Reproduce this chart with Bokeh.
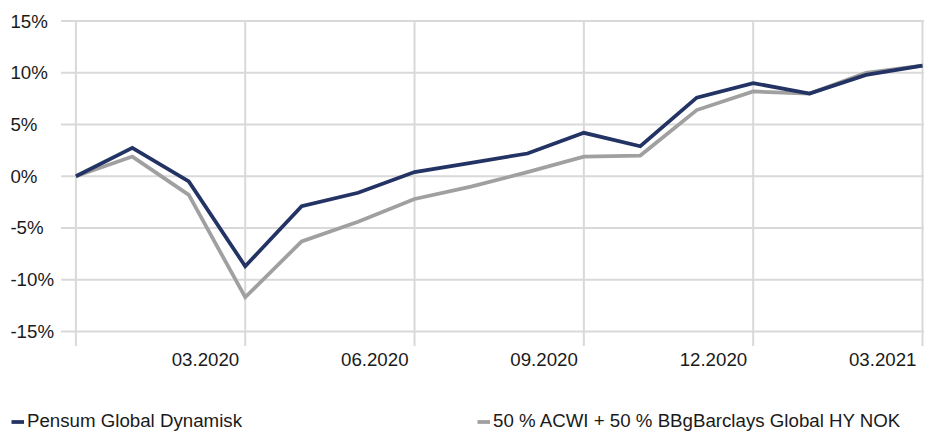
from bokeh.plotting import figure
from bokeh.models import Range1d, Legend, LegendItem
from bokeh.core.properties import value
from bokeh.embed import file_html
from bokeh.resources import INLINE

# ---- data ----
fund_name = "Pensum Global Dynamisk"
bench_name = "50 % ACWI + 50 % BBgBarclays Global HY NOK"
fund = [0.0, 2.75, -0.5, -8.7, -2.9, -1.6, 0.4, 1.3, 2.2, 4.2, 2.9, 7.6, 9.0, 8.0, 9.8, 10.7]
bench = [0.0, 1.9, -1.8, -11.7, -6.3, -4.4, -2.2, -1.0, 0.4, 1.9, 2.0, 6.4, 8.2, 8.0, 10.0, 10.7]
tick_pos = [3, 6, 9, 12, 15]
tick_labels = ["03.2020", "06.2020", "09.2020", "12.2020", "03.2021"]
y_ticks = [-15, -10, -5, 0, 5, 10, 15]
y_labels = ["-15%", "-10%", "-5%", "0%", "5%", "10%", "15%"]

FONT = "Liberation Sans"
FS = "18.7px"
NAVY = "#233364"
GREY = "#A0A0A0"
GRID = "#D9D9D9"
TXT = "#1a1a1a"

# ---- layout (figure pixels) ----
W, H = 924, 432
X0_PX, XN_PX = 75.4, 922.0              # x of first / last point
Y_TOP_PX, Y_BOT_PX = 20.6, 330.9        # y of +15 / -15 lines
PLOT_LEFT_PX = 60.5                     # where horizontal grid lines start
TICK_BOTTOM_PX = 345.6                  # where vertical lines end
YLAB_PX = 9.9                           # left edge of y labels

n_steps = len(fund) - 1
XSTEP = (XN_PX - X0_PX) / n_steps
YUNIT = (Y_BOT_PX - Y_TOP_PX) / (max(y_ticks) - min(y_ticks))

def xd(px):
    return (px - X0_PX) / XSTEP

def yd(px):
    return max(y_ticks) - (px - Y_TOP_PX) / YUNIT

x = list(range(len(fund)))

p = figure(width=W, height=H, output_backend="svg", toolbar_location=None,
           x_range=Range1d(xd(0), xd(W)), y_range=Range1d(yd(H), yd(0)),
           x_axis_location=None, y_axis_location=None,
           min_border=0, min_border_left=0, min_border_right=0,
           min_border_top=0, min_border_bottom=0)
p.outline_line_color = None
p.background_fill_color = "white"
p.border_fill_color = "white"
p.grid.visible = False

# grid lines
vticks = [0] + tick_pos
p.segment(x0=vticks, x1=vticks, y0=[max(y_ticks)] * len(vticks),
          y1=[yd(TICK_BOTTOM_PX)] * len(vticks), line_color=GRID, line_width=2)
p.segment(x0=[xd(PLOT_LEFT_PX)] * len(y_ticks), x1=[xd(W)] * len(y_ticks),
          y0=y_ticks, y1=y_ticks, line_color=GRID, line_width=2)

# y tick labels (left aligned)
p.text(x=[xd(YLAB_PX)] * len(y_ticks), y=y_ticks, text=y_labels,
       text_font=value(FONT), text_font_size=value(FS), text_color=TXT,
       text_align="left", text_baseline="middle")

# x tick labels (right aligned just left of the tick line)
p.text(x=tick_pos, y=[min(y_ticks)] * len(tick_pos), text=tick_labels,
       text_font=value(FONT), text_font_size=value(FS), text_color=TXT,
       text_align="right", text_baseline="alphabetic", x_offset=-6, y_offset=28.5)

r_bench = p.line(x, bench, line_color=GREY, line_width=3.75, line_join="miter")
r_fund = p.line(x, fund, line_color=NAVY, line_width=3.75, line_join="miter")

def mk_legend(item, loc):
    return Legend(items=[item], location=loc, orientation="horizontal",
                  glyph_width=13, glyph_height=19, label_height=19, label_standoff=3,
                  padding=0, margin=0, spacing=0,
                  label_text_font=FONT, label_text_font_size=FS, label_text_color=TXT,
                  background_fill_alpha=0, border_line_color=None)

p.add_layout(mk_legend(LegendItem(label=fund_name, renderers=[r_fund]), (11, 0)))
p.add_layout(mk_legend(LegendItem(label=bench_name, renderers=[r_bench]), (477, 0)))

open("out.html", "w").write(file_html(p, INLINE))
